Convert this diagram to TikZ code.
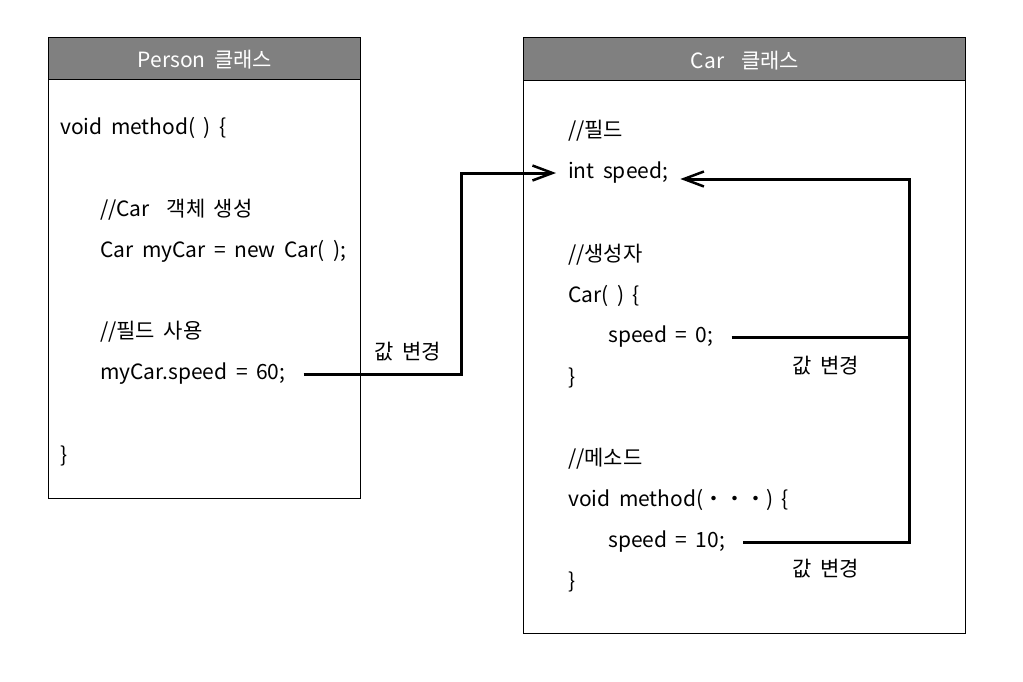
\documentclass[tikz,border=0pt]{standalone}
\usepackage{fontspec}
\setmainfont[WordSpace=1.8]{Noto Sans CJK KR}
\usetikzlibrary{arrows.meta}
\tikzset{every node/.style={inner sep=0pt}}
\tikzset{code/.style={anchor=west, font=\fontsize{21}{24}\selectfont}}
\tikzset{title/.style={text=white, font=\fontsize{21}{24}\selectfont}}
\tikzset{box/.style={draw=black, line width=1pt, fill=white}}
\tikzset{bar/.style={draw=black, line width=1pt, fill=black!50}}
\tikzset{wire/.style={line width=3pt, shorten <=18pt}}
\tikzset{link/.style={wire, -{Straight Barb[length=20pt, width=15pt, line width=2.5pt]}, shorten >=12pt}}
\tikzset{change/.style={font=\fontsize{21}{24}\selectfont}}

\begin{document}
\begin{tikzpicture}[x=1pt, y=-1pt]
	\useasboundingbox (0,0) rectangle (1023,681);

	% Person class
	\draw[box] (48,37) rectangle (360,498);
	\draw[bar] (48,37) rectangle (360,79);
	\node[title] (phead) at (205,60) {Person 클래스};
	\node[code] (pm) at (60,128) {void method( ) \{};
	\node[code] (pc1) at (100,210) {//Car~ 객체 생성};
	\node[code] (pnew) at (100,251) {Car myCar = new Car( );};
	\node[code] (pc2) at (100,332) {//필드 사용};
	\node[code] (p60) at (100,374) {myCar.speed = 60;};
	\node[code] (pend) at (60,456) {\}};

	% Car class
	\draw[box] (523,37) rectangle (965,633);
	\draw[bar] (523,37) rectangle (965,80);
	\node[title] (chead) at (745,61) {Car~ 클래스};
	\node[code] (cc1) at (568,131) {//필드};
	\node[code] (speed) at (568,173) {int speed;};
	\node[code] (cc2) at (568,255) {//생성자};
	\node[code] (ctor) at (568,296) {Car( ) \{};
	\node[code] (s0) at (608,337) {speed = 0;};
	\node[code] (cend) at (568,378) {\}};
	\node[code] (cc3) at (568,459) {//메소드};
	\node[code] (cm) at (568,500) {void method(・・・) \{};
	\node[code] (s10) at (608,542) {speed = 10;};
	\node[code] (mend) at (568,582) {\}};

	% Connectors
	\coordinate (j1) at (461,0);
	\coordinate (j2) at (909,0);
	\draw[link] (p60.east) -| (j1 |- speed.west) -- (speed.west);
	\draw[link] (s0.east) -| ([yshift=-6pt]j2 |- speed.east) -- ([yshift=-6pt]speed.east);
	\draw[wire] (s10.east) -| (j2 |- s0.east);

	% Labels
	\node[change] (lab1) at (408,352) {값 변경};
	\node[change] (lab2) at (826,366) {값 변경};
	\node[change] (lab3) at (826,569) {값 변경};
\end{tikzpicture}
\end{document}
